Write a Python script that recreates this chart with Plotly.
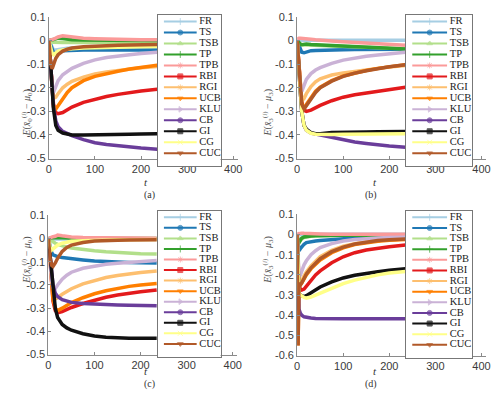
import plotly.graph_objects as go

# ---------------- data ----------------
T = [0, 2, 4, 7, 10, 15, 20, 30, 40, 50, 75, 100, 125, 150, 175, 200, 235]
NAMES = ["FR", "TS", "TSB", "TP", "TPB", "RBI", "RGI", "UCB", "KLU", "CB", "GI", "CG", "CUC"]
X_TICKS = [0, 100, 200, 300, 400]
X_TICKTEXT = ["0", "100", "200", "300", "400"]
Y_TICKS_ABC = [0.1, 0, -0.1, -0.2, -0.3, -0.4, -0.5]
Y_TICKTEXT_ABC = ["0.1", "0", "-0.1", "-0.2", "-0.3", "-0.4", "-0.5"]
Y_TICKS_D = [0.1, 0, -0.1, -0.2, -0.3, -0.4, -0.5, -0.6]
Y_TICKTEXT_D = ["0.1", "0", "-0.1", "-0.2", "-0.3", "-0.4", "-0.5", "-0.6"]

# panel (a)
a_FR = [0, -0.01, -0.02, -0.035, -0.04, -0.04, -0.038, -0.035, -0.033, -0.032, -0.03, -0.029, -0.028, -0.027, -0.026, -0.025, -0.025]
a_TS = [0, -0.01, -0.025, -0.04, -0.05, -0.053, -0.048, -0.043, -0.042, -0.041, -0.04, -0.04, -0.04, -0.04, -0.04, -0.04, -0.04]
a_TSB = [0, -0.003, -0.005, -0.006, -0.007, -0.008, -0.008, -0.008, -0.008, -0.008, -0.008, -0.008, -0.008, -0.008, -0.008, -0.008, -0.008]
a_TP = [0, 0, 0.002, 0.003, 0.004, 0.006, 0.01, 0.008, 0.005, 0.003, 0.002, 0.001, 0.001, 0, 0, 0, 0]
a_TPB = [0, 0.002, 0.003, 0.005, 0.006, 0.01, 0.015, 0.02, 0.017, 0.014, 0.01, 0.008, 0.006, 0.005, 0.004, 0.003, 0.003]
a_RBI = [0, -0.06, -0.13, -0.21, -0.27, -0.305, -0.31, -0.305, -0.293, -0.282, -0.262, -0.248, -0.237, -0.228, -0.22, -0.214, -0.206]
a_RGI = [0, -0.06, -0.13, -0.2, -0.245, -0.24, -0.225, -0.2, -0.185, -0.173, -0.155, -0.142, -0.133, -0.126, -0.12, -0.115, -0.11]
a_UCB = [0, -0.06, -0.13, -0.22, -0.28, -0.29, -0.275, -0.245, -0.22, -0.2, -0.17, -0.152, -0.14, -0.13, -0.121, -0.114, -0.105]
a_KLU = [0, -0.06, -0.13, -0.2, -0.22, -0.195, -0.17, -0.145, -0.13, -0.118, -0.097, -0.082, -0.072, -0.065, -0.06, -0.055, -0.05]
a_CB = [0, -0.04, -0.1, -0.2, -0.28, -0.34, -0.365, -0.385, -0.395, -0.403, -0.42, -0.433, -0.44, -0.446, -0.451, -0.455, -0.46]
a_GI = [0, -0.04, -0.1, -0.2, -0.29, -0.36, -0.38, -0.392, -0.397, -0.4, -0.4, -0.4, -0.4, -0.398, -0.397, -0.396, -0.395]
a_CG = [0, -0.02, -0.04, -0.055, -0.06, -0.052, -0.045, -0.04, -0.037, -0.035, -0.032, -0.03, -0.029, -0.028, -0.027, -0.026, -0.025]
a_CUC = [0, -0.05, -0.1, -0.12, -0.1, -0.075, -0.06, -0.045, -0.037, -0.032, -0.026, -0.023, -0.021, -0.02, -0.019, -0.018, -0.017]

# panel (b)
b_FR = [0, 0.001, 0.001, 0.001, 0.001, 0.001, 0.001, 0.001, 0.001, 0.001, 0.001, 0.001, 0.001, 0.001, 0.001, 0.001, 0.001]
b_TS = [0, -0.01, -0.025, -0.04, -0.05, -0.052, -0.048, -0.043, -0.042, -0.041, -0.04, -0.039, -0.038, -0.038, -0.037, -0.037, -0.037]
b_TSB = [0, -0.005, -0.01, -0.015, -0.018, -0.018, -0.018, -0.019, -0.02, -0.021, -0.023, -0.025, -0.027, -0.029, -0.031, -0.033, -0.035]
b_TP = [0, -0.005, -0.01, -0.015, -0.018, -0.016, -0.015, -0.017, -0.018, -0.019, -0.021, -0.024, -0.027, -0.029, -0.031, -0.033, -0.036]
b_TPB = [0.005, 0.008, 0.01, 0.01, 0.009, 0.008, 0.007, 0.005, 0.003, 0.001, -0.002, -0.005, -0.008, -0.011, -0.014, -0.017, -0.02]
b_RBI = [0, -0.05, -0.12, -0.2, -0.26, -0.295, -0.3, -0.295, -0.285, -0.275, -0.255, -0.24, -0.23, -0.222, -0.214, -0.207, -0.198]
b_RGI = [0, -0.05, -0.12, -0.2, -0.255, -0.245, -0.225, -0.195, -0.175, -0.162, -0.146, -0.137, -0.13, -0.123, -0.117, -0.112, -0.106]
b_UCB = [0, -0.05, -0.12, -0.21, -0.27, -0.285, -0.27, -0.24, -0.215, -0.198, -0.17, -0.15, -0.137, -0.127, -0.118, -0.11, -0.102]
b_KLU = [0, -0.05, -0.12, -0.2, -0.215, -0.19, -0.165, -0.14, -0.125, -0.115, -0.097, -0.083, -0.074, -0.067, -0.061, -0.056, -0.05]
b_CB = [0, -0.05, -0.12, -0.22, -0.3, -0.36, -0.38, -0.392, -0.396, -0.4, -0.412, -0.422, -0.43, -0.436, -0.442, -0.447, -0.452]
b_GI = [0, -0.05, -0.12, -0.22, -0.3, -0.36, -0.375, -0.39, -0.395, -0.395, -0.39, -0.388, -0.387, -0.387, -0.386, -0.386, -0.385]
b_CG = [0, -0.05, -0.12, -0.22, -0.3, -0.36, -0.38, -0.393, -0.397, -0.398, -0.398, -0.397, -0.397, -0.396, -0.396, -0.395, -0.395]
b_CUC = [0, -0.05, -0.12, -0.21, -0.27, -0.29, -0.275, -0.245, -0.22, -0.2, -0.172, -0.152, -0.138, -0.128, -0.119, -0.111, -0.103]

# panel (c)
c_FR = [0, -0.001, -0.002, -0.002, -0.002, -0.002, -0.002, -0.002, -0.002, -0.002, -0.002, -0.002, -0.002, -0.002, -0.002, -0.002, -0.002]
c_TS = [0, -0.02, -0.04, -0.06, -0.07, -0.075, -0.078, -0.082, -0.085, -0.087, -0.092, -0.097, -0.1, -0.102, -0.103, -0.104, -0.105]
c_TSB = [0, -0.003, -0.006, -0.01, -0.015, -0.02, -0.025, -0.032, -0.037, -0.041, -0.048, -0.053, -0.057, -0.06, -0.063, -0.065, -0.066]
c_TP = [0, 0, 0.002, 0.003, 0.004, 0.005, 0.004, 0.003, 0.002, 0.001, 0, 0, 0, 0, 0, 0, 0]
c_TPB = [0, 0.002, 0.004, 0.006, 0.008, 0.01, 0.015, 0.012, 0.009, 0.007, 0.005, 0.004, 0.003, 0.002, 0.002, 0.001, 0.001]
c_RBI = [0, -0.05, -0.12, -0.2, -0.27, -0.31, -0.32, -0.315, -0.305, -0.297, -0.28, -0.265, -0.253, -0.243, -0.235, -0.229, -0.222]
c_RGI = [0, -0.05, -0.12, -0.19, -0.24, -0.26, -0.255, -0.24, -0.228, -0.216, -0.195, -0.18, -0.168, -0.159, -0.152, -0.146, -0.14]
c_UCB = [0, -0.05, -0.12, -0.2, -0.26, -0.3, -0.31, -0.3, -0.288, -0.276, -0.255, -0.238, -0.225, -0.214, -0.206, -0.2, -0.194]
c_KLU = [0, -0.05, -0.12, -0.18, -0.21, -0.215, -0.2, -0.175, -0.158, -0.145, -0.128, -0.118, -0.111, -0.106, -0.102, -0.099, -0.095]
c_CB = [0, -0.04, -0.09, -0.15, -0.2, -0.235, -0.25, -0.263, -0.27, -0.275, -0.28, -0.283, -0.285, -0.286, -0.287, -0.288, -0.29]
c_GI = [0, -0.04, -0.09, -0.16, -0.23, -0.3, -0.34, -0.37, -0.385, -0.395, -0.41, -0.42, -0.425, -0.428, -0.43, -0.43, -0.43]
c_CG = [0, -0.02, -0.04, -0.05, -0.045, -0.035, -0.028, -0.02, -0.015, -0.012, -0.009, -0.007, -0.006, -0.005, -0.005, -0.004, -0.004]
c_CUC = [0, -0.05, -0.09, -0.115, -0.12, -0.105, -0.085, -0.055, -0.038, -0.028, -0.017, -0.011, -0.008, -0.007, -0.006, -0.005, -0.005]

# panel (d)
d_FR = [0, 0.001, 0.001, 0.001, 0.001, 0.001, 0.001, 0.001, 0.001, 0.001, 0.001, 0.001, 0.001, 0.001, 0.001, 0.001, 0.001]
d_TS = [0, -0.05, -0.08, -0.07, -0.06, -0.048, -0.04, -0.035, -0.032, -0.03, -0.025, -0.02, -0.015, -0.011, -0.008, -0.006, -0.005]
d_TSB = [0, -0.05, -0.04, -0.03, -0.02, -0.014, -0.011, -0.008, -0.006, -0.005, -0.004, -0.003, -0.003, -0.002, -0.002, -0.002, -0.002]
d_TP = [0, -0.05, -0.04, -0.025, -0.018, -0.012, -0.009, -0.007, -0.006, -0.005, -0.004, -0.003, -0.003, -0.002, -0.002, -0.002, -0.002]
d_TPB = [0.01, 0, 0.005, 0.008, 0.007, 0.006, 0.005, 0.004, 0.003, 0.003, 0.002, 0.002, 0.001, 0.001, 0.001, 0.001, 0.001]
d_RBI = [0, -0.2, -0.25, -0.27, -0.275, -0.27, -0.255, -0.225, -0.2, -0.18, -0.14, -0.11, -0.09, -0.077, -0.067, -0.06, -0.052]
d_RGI = [0, -0.2, -0.23, -0.24, -0.23, -0.205, -0.185, -0.155, -0.13, -0.11, -0.078, -0.058, -0.045, -0.036, -0.03, -0.026, -0.022]
d_UCB = [0, -0.55, -0.25, -0.25, -0.24, -0.22, -0.2, -0.17, -0.146, -0.126, -0.09, -0.066, -0.05, -0.04, -0.033, -0.028, -0.024]
d_KLU = [0, -0.15, -0.2, -0.2, -0.18, -0.15, -0.13, -0.1, -0.08, -0.065, -0.045, -0.032, -0.025, -0.02, -0.017, -0.015, -0.013]
d_CB = [0, -0.33, -0.37, -0.39, -0.4, -0.408, -0.411, -0.414, -0.416, -0.417, -0.418, -0.418, -0.418, -0.418, -0.418, -0.418, -0.418]
d_GI = [0, -0.27, -0.29, -0.3, -0.305, -0.308, -0.303, -0.29, -0.275, -0.26, -0.235, -0.215, -0.202, -0.192, -0.184, -0.177, -0.17]
d_CG = [0, -0.27, -0.29, -0.3, -0.305, -0.312, -0.315, -0.31, -0.3, -0.29, -0.265, -0.243, -0.226, -0.212, -0.2, -0.191, -0.183]
d_CUC = [0, -0.55, -0.24, -0.25, -0.24, -0.215, -0.195, -0.165, -0.14, -0.12, -0.085, -0.062, -0.047, -0.037, -0.03, -0.026, -0.022]

PANEL_A = [a_FR, a_TS, a_TSB, a_TP, a_TPB, a_RBI, a_RGI, a_UCB, a_KLU, a_CB, a_GI, a_CG, a_CUC]
PANEL_B = [b_FR, b_TS, b_TSB, b_TP, b_TPB, b_RBI, b_RGI, b_UCB, b_KLU, b_CB, b_GI, b_CG, b_CUC]
PANEL_C = [c_FR, c_TS, c_TSB, c_TP, c_TPB, c_RBI, c_RGI, c_UCB, c_KLU, c_CB, c_GI, c_CG, c_CUC]
PANEL_D = [d_FR, d_TS, d_TSB, d_TP, d_TPB, d_RBI, d_RGI, d_UCB, d_KLU, d_CB, d_GI, d_CG, d_CUC]

# ---------------- styles ----------------
COLORS = ["#a6cee3", "#1f78b4", "#b2df8a", "#33a02c", "#fb9a99", "#e31a1c", "#fdbf6f",
          "#ff7f00", "#cab2d6", "#6a3d9a", "#111111", "#ffff88", "#b15928"]
SYMBOLS = ["cross-thin", "circle", "triangle-up", "cross-thin", "asterisk", "square", "asterisk",
           "triangle-down", "triangle-right", "circle", "square", "x-thin", "triangle-down"]

W, H = 500, 405


def px_x(a, b):
    return [a / W, b / W]


def px_y(top, bottom):
    return [1 - bottom / H, 1 - top / H]


PANELS = [
    dict(data=PANEL_A, xd=(38.5, 230.5), yd=(3, 149), yr=[-0.5, 0.1], yt=(Y_TICKS_ABC, Y_TICKTEXT_ABC),
         sub="0", leg=(149, 213, 1, 157), ylab_x=8, t_xy=(134, 173), tag="(a)", tag_y=187),
    dict(data=PANEL_B, xd=(290.8, 482.8), yd=(3, 149), yr=[-0.5, 0.1], yt=(Y_TICKS_ABC, Y_TICKTEXT_ABC),
         sub="3", leg=(401, 469, 1, 157), ylab_x=261, t_xy=(373, 173), tag="(b)", tag_y=187),
    dict(data=PANEL_C, xd=(38, 230), yd=(207.5, 351), yr=[-0.5, 0.1], yt=(Y_TICKS_ABC, Y_TICKTEXT_ABC),
         sub="0", leg=(149, 213, 203, 353), ylab_x=8, t_xy=(134, 375), tag="(c)", tag_y=389),
    dict(data=PANEL_D, xd=(290.8, 482.8), yd=(206.5, 352), yr=[-0.6, 0.1], yt=(Y_TICKS_D, Y_TICKTEXT_D),
         sub="3", leg=(401, 469, 203, 354), ylab_x=261, t_xy=(373, 375), tag="(d)", tag_y=389),
]

fig = go.Figure()
layout = dict(width=W, height=H, margin=dict(l=0, r=0, t=0, b=0),
              paper_bgcolor="white", plot_bgcolor="white", showlegend=False, hovermode=False)
annotations = []
shapes = []

axis_common = dict(showgrid=False, zeroline=False, showline=True, linecolor="#8a8a8a", linewidth=1,
                   ticks="inside", ticklen=3, tickcolor="#8a8a8a",
                   tickfont=dict(family="Liberation Sans, Arial", size=11, color="#3a3a3a"))

for k, p in enumerate(PANELS):
    n = k + 1
    xs = "" if n == 1 else str(n)
    xa, ya = "x" + xs, "y" + xs
    layout["xaxis" + xs] = dict(domain=px_x(*p["xd"]), range=[0, 410], anchor=ya,
                                tickvals=X_TICKS, ticktext=X_TICKTEXT, **axis_common)
    layout["yaxis" + xs] = dict(domain=px_y(*p["yd"]), range=p["yr"], anchor=xa,
                                tickvals=p["yt"][0], ticktext=p["yt"][1], **axis_common)
    for i, ys in enumerate(p["data"]):
        fig.add_trace(go.Scatter(x=T, y=ys, mode="lines", xaxis=xa, yaxis=ya,
                                 line=dict(color=COLORS[i], width=3.5), name=NAMES[i]))

    # legend box drawn as an inset subplot
    m = n + 4
    lx, ly = "x" + str(m), "y" + str(m)
    L = p["leg"]
    box = dict(showgrid=False, zeroline=False, showline=True, mirror=True, linecolor="#777777",
               linewidth=1, ticks="", showticklabels=False, fixedrange=True)
    layout["xaxis" + str(m)] = dict(domain=px_x(L[0], L[1]), range=[0, 1], anchor=ly, **box)
    layout["yaxis" + str(m)] = dict(domain=px_y(L[2], L[3]), range=[13.2, -0.6], anchor=lx, **box)
    shapes.append(dict(type="rect", xref=lx + " domain", yref=ly + " domain", x0=0, x1=1, y0=0, y1=1,
                       layer="below", fillcolor="white", line=dict(width=0)))
    for i, name in enumerate(NAMES):
        fig.add_trace(go.Scatter(x=[0.1, 0.36, 0.62], y=[i, i, i], mode="lines+markers",
                                 xaxis=lx, yaxis=ly, line=dict(color=COLORS[i], width=2),
                                 marker=dict(symbol=SYMBOLS[i], size=[0, 5, 0], color=COLORS[i],
                                             line=dict(color=COLORS[i], width=1)),
                                 cliponaxis=False))
    fig.add_trace(go.Scatter(x=[0.66] * len(NAMES), y=list(range(len(NAMES))), text=NAMES,
                             mode="text", textposition="middle right", xaxis=lx, yaxis=ly,
                             textfont=dict(family="Liberation Serif, Times New Roman", size=10.5,
                                           color="#222222"),
                             cliponaxis=False))

    s = p["sub"]
    ylab = ("<i>E</i>(<i>x̄</i><sub>" + s + "</sub><sup>(<i>i</i>)</sup> − <i>μ</i><sub>" + s + "</sub>)")
    yc = (p["yd"][0] + p["yd"][1]) / 2
    annotations.append(dict(text=ylab, x=p["ylab_x"] / W, y=1 - yc / H, xref="paper", yref="paper",
                            showarrow=False, textangle=-90, borderpad=0,
                            font=dict(family="Liberation Serif", size=10, color="#555555")))
    annotations.append(dict(text="<i>t</i>", x=p["t_xy"][0] / W, y=1 - p["t_xy"][1] / H,
                            xref="paper", yref="paper", showarrow=False, borderpad=0,
                            font=dict(family="Liberation Serif", size=11, color="#333333")))
    annotations.append(dict(text=p["tag"], x=p["t_xy"][0] / W, y=1 - p["tag_y"] / H,
                            xref="paper", yref="paper", showarrow=False, borderpad=0,
                            font=dict(family="Liberation Serif", size=10, color="#333333")))

layout["annotations"] = annotations
layout["shapes"] = shapes
fig.update_layout(**layout)
fig.write_html("out.html")
